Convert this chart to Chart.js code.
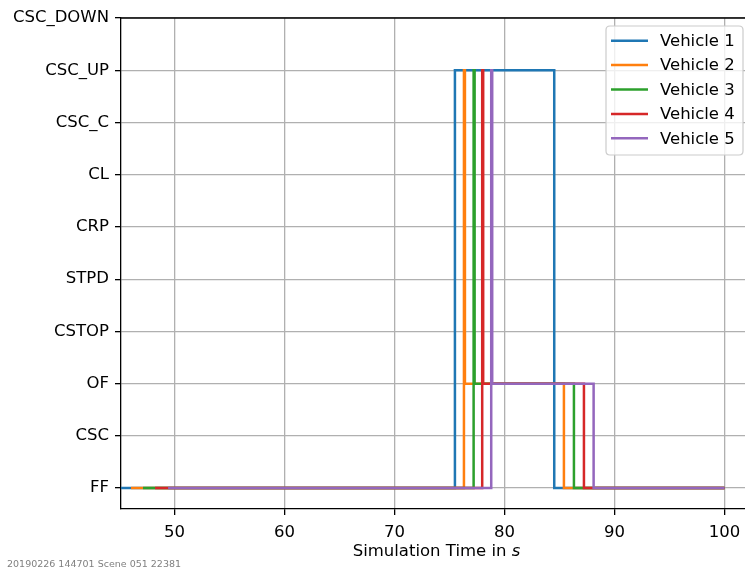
<!DOCTYPE html>
<html>
<head>
<meta charset="utf-8">
<script src="https://cdn.jsdelivr.net/npm/chart.js@4/dist/chart.umd.min.js"></script>
<style>
  html, body { margin: 0; padding: 0; background: #fff; }
  #wrap { position: relative; width: 745px; height: 569px; overflow: hidden; }
  #inner { position: absolute; left: 0; top: 0; width: 760px; height: 569px; }
  #foot { position: absolute; left: 7px; top: 558px; font: 9.5px "DejaVu Sans", sans-serif; color: #808080; white-space: nowrap; }
</style>
</head>
<body>
<div id="wrap">
  <div id="inner"><canvas id="c"></canvas></div>
  <div id="foot">20190226 144701 Scene 051 22381</div>
</div>
<script>
// Category (state) labels, bottom to top
const stateLabels = ["FF", "CSC", "OF", "CSTOP", "STPD", "CRP", "CL", "CSC_C", "CSC_UP", "CSC_DOWN"];
const xTicks = [50, 60, 70, 80, 90, 100];

const vehicleNames = ["Vehicle 1", "Vehicle 2", "Vehicle 3", "Vehicle 4", "Vehicle 5"];
const vehicleColors = ["#1f77b4", "#ff7f0e", "#2ca02c", "#d62728", "#9467bd"];

// Step change times (s) and the state entered at each time
const v1Times  = [45.13, 75.49, 84.52, 100];
const v1States = ["FF", "CSC_UP", "FF", "FF"];
const v2Times  = [46.04, 76.31, 76.40, 85.40, 100];
const v2States = ["FF", "CSC_UP", "OF", "FF", "FF"];
const v3Times  = [47.13, 77.19, 77.28, 86.31, 100];
const v3States = ["FF", "CSC_UP", "OF", "FF", "FF"];
const v4Times  = [48.23, 77.97, 78.06, 87.22, 100];
const v4States = ["FF", "CSC_UP", "OF", "FF", "FF"];
const v5Times  = [49.41, 78.79, 78.88, 88.10, 100];
const v5States = ["FF", "CSC_UP", "OF", "FF", "FF"];

const allTimes = [v1Times, v2Times, v3Times, v4Times, v5Times];
const allStates = [v1States, v2States, v3States, v4States, v5States];

const FONT = '"DejaVu Sans", sans-serif';

const datasets = vehicleNames.map((name, i) => ({
  label: name,
  data: allTimes[i].map((t, k) => ({ x: t, y: stateLabels.indexOf(allStates[i][k]) })),
  borderColor: vehicleColors[i],
  backgroundColor: vehicleColors[i],
  borderWidth: 2.5,
  pointRadius: 0,
  fill: false,
  stepped: 'before',
  order: vehicleNames.length - i
}));

const framePlugin = {
  id: 'frame',
  afterDatasetsDraw(chart) {
    const ctx = chart.ctx, a = chart.chartArea;
    ctx.save();
    ctx.strokeStyle = '#000';
    ctx.lineWidth = 1.3;
    ctx.beginPath();
    ctx.moveTo(a.left, a.top); ctx.lineTo(a.right, a.top);
    ctx.moveTo(a.right, a.top); ctx.lineTo(a.right, a.bottom);
    ctx.stroke();
    ctx.restore();
  },
  afterDraw(chart) {
    const ctx = chart.ctx, a = chart.chartArea;
    ctx.save();
    // x axis label with italic s
    const t1 = "Simulation Time in ", t2 = "s";
    ctx.font = '16.5px ' + FONT;
    const w1 = ctx.measureText(t1).width;
    ctx.font = 'italic 16.5px ' + FONT;
    const w2 = ctx.measureText(t2).width;
    const cx = (a.left + a.right) / 2;
    const x0 = cx - (w1 + w2) / 2;
    ctx.fillStyle = '#000';
    ctx.textBaseline = 'alphabetic';
    ctx.textAlign = 'left';
    ctx.font = '16.5px ' + FONT;
    ctx.fillText(t1, x0, 556);
    ctx.font = 'italic 16.5px ' + FONT;
    ctx.fillText(t2, x0 + w1, 556);

    // legend
    const lx = 606, ly = 26, lw = 137, lh = 129, r = 4;
    ctx.beginPath();
    ctx.moveTo(lx + r, ly);
    ctx.lineTo(lx + lw - r, ly); ctx.quadraticCurveTo(lx + lw, ly, lx + lw, ly + r);
    ctx.lineTo(lx + lw, ly + lh - r); ctx.quadraticCurveTo(lx + lw, ly + lh, lx + lw - r, ly + lh);
    ctx.lineTo(lx + r, ly + lh); ctx.quadraticCurveTo(lx, ly + lh, lx, ly + lh - r);
    ctx.lineTo(lx, ly + r); ctx.quadraticCurveTo(lx, ly, lx + r, ly);
    ctx.closePath();
    ctx.fillStyle = 'rgba(255,255,255,0.8)';
    ctx.fill();
    ctx.strokeStyle = '#cccccc';
    ctx.lineWidth = 1.2;
    ctx.stroke();
    ctx.font = '16.5px ' + FONT;
    ctx.textBaseline = 'middle';
    chart.data.datasets.forEach((ds, i) => {
      const y = 40.7 + i * 24.4;
      ctx.strokeStyle = ds.borderColor;
      ctx.lineWidth = 2.5;
      ctx.beginPath();
      ctx.moveTo(611, y); ctx.lineTo(648, y);
      ctx.stroke();
      ctx.fillStyle = '#000';
      ctx.fillText(ds.label, 660, y + 1);
    });
    ctx.restore();
  }
};

new Chart(document.getElementById('c'), {
  type: 'line',
  data: { datasets },
  plugins: [framePlugin],
  options: {
    responsive: true,
    maintainAspectRatio: false,
    animation: false,
    layout: { padding: { left: 0, right: 8, top: 18, bottom: 0 } },
    plugins: { legend: { display: false }, tooltip: { enabled: false } },
    scales: {
      x: {
        type: 'linear',
        min: 45.13,
        max: 102.5,
        afterBuildTicks: (axis) => { axis.ticks = xTicks.map(v => ({ value: v })); },
        afterFit: (axis) => { axis.height = 60; },
        grid: { color: '#b0b0b0', lineWidth: 1.3, tickColor: '#000', tickLength: 6, tickWidth: 1.3 },
        border: { display: true, color: '#000', width: 1.3 },
        ticks: { color: '#000', font: { family: FONT, size: 16.5 }, padding: 8, maxRotation: 0, autoSkip: false,
                 callback: (v) => String(v) }
      },
      y: {
        type: 'linear',
        min: -0.4,
        max: 9,
        afterBuildTicks: (axis) => { axis.ticks = stateLabels.map((_, i) => ({ value: i })); },
        afterFit: (axis) => { axis.width = 121; },
        grid: { color: '#b0b0b0', lineWidth: 1.3, tickColor: '#000', tickLength: 6, tickWidth: 1.3 },
        border: { display: true, color: '#000', width: 1.3 },
        ticks: { color: '#000', font: { family: FONT, size: 16.5 }, padding: 6, autoSkip: false,
                 callback: (v) => stateLabels[v] }
      }
    }
  }
});
</script>
</body>
</html>
